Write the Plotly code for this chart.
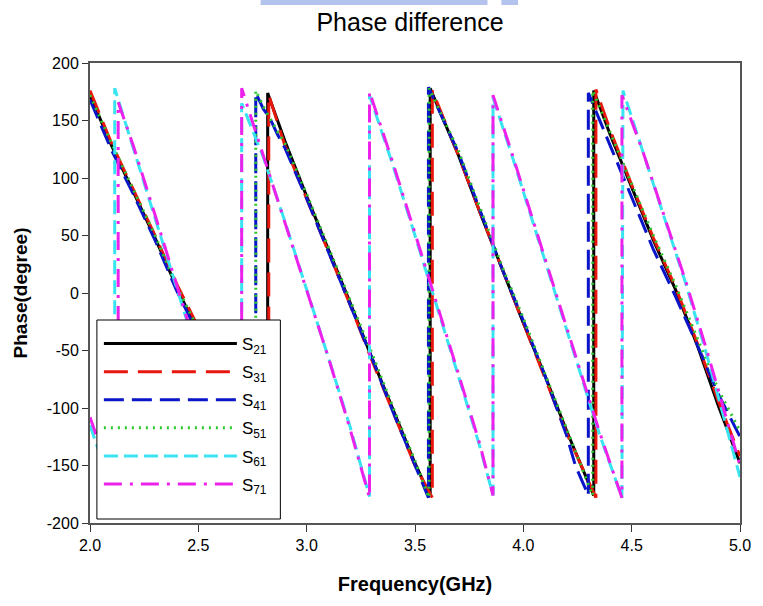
import plotly.graph_objects as go

# ---- data ----
S21_FREQ = [2.00, 2.10, 2.20, 2.30, 2.40, 2.50, 2.60, 2.70, 2.82, 2.82, 2.90, 3.00, 3.10, 3.20, 3.30, 3.40, 3.50, 3.57,
            3.57, 3.70, 3.80, 3.90, 4.00, 4.10, 4.20, 4.325, 4.325, 4.40, 4.50, 4.60, 4.70, 4.80, 4.90, 5.00]
S21_PHASE = [172, 128, 88, 48, 5, -35, -80, -125, -178, 174, 132, 84, 38, -8, -56, -102, -148, -177,
             178, 120, 70, 22, -26, -72, -120, -176, 176, 138, 92, 46, 4, -44, -98, -148]

S31_FREQ = [2.00, 2.10, 2.20, 2.30, 2.40, 2.50, 2.60, 2.70, 2.825, 2.825, 2.90, 3.00, 3.10, 3.20, 3.30, 3.40, 3.50, 3.58,
            3.58, 3.70, 3.80, 3.90, 4.00, 4.10, 4.20, 4.335, 4.335, 4.40, 4.50, 4.60, 4.70, 4.80, 4.90, 5.00]
S31_PHASE = [176, 130, 90, 50, 8, -30, -76, -122, -178, 172, 128, 82, 36, -10, -58, -104, -150, -178,
             176, 120, 70, 22, -26, -74, -122, -178, 177, 142, 94, 48, 6, -42, -94, -142]

S41_FREQ = [2.00, 2.10, 2.20, 2.30, 2.40, 2.50, 2.60, 2.765, 2.765, 2.80, 2.83, 2.865, 2.90, 3.00, 3.10, 3.20, 3.30, 3.40,
            3.50, 3.562, 3.562, 3.70, 3.80, 3.90, 4.00, 4.10, 4.20, 4.24, 4.30, 4.30, 4.41, 4.50, 4.60, 4.70, 4.80, 4.90, 5.00]
S41_PHASE = [168, 124, 86, 46, 2, -36, -84, -178, 174, 160, 152, 138, 126, 82, 36, -10, -56, -104,
             -150, -178, 179, 122, 72, 22, -24, -72, -124, -150, -176, 174, 124, 84, 38, -2, -44, -88, -125]

S51_FREQ = [2.00, 2.10, 2.20, 2.30, 2.40, 2.50, 2.60, 2.765, 2.765, 2.80, 2.86, 2.90, 3.00, 3.10, 3.20, 3.30, 3.40, 3.50,
            3.565, 3.565, 3.70, 3.80, 3.90, 4.00, 4.10, 4.20, 4.32, 4.32, 4.40, 4.50, 4.60, 4.70, 4.80, 4.90, 5.00]
S51_PHASE = [172, 130, 90, 50, 6, -32, -80, -178, 176, 162, 142, 130, 86, 40, -6, -52, -100, -146,
             -178, 178, 124, 74, 24, -22, -70, -118, -176, 176, 140, 96, 50, 8, -38, -84, -120]

S61_FREQ = [2.00, 2.114, 2.114, 2.20, 2.30, 2.40, 2.50, 2.60, 2.70, 2.70, 2.80, 2.90, 3.00, 3.10, 3.20, 3.29,
            3.29, 3.40, 3.50, 3.60, 3.70, 3.80, 3.86, 3.86, 3.95, 4.05, 4.15, 4.25, 4.35, 4.455,
            4.46, 4.55, 4.65, 4.75, 4.85, 4.95, 5.00]
S61_PHASE = [-115, -178, 178, 126, 66, 6, -56, -118, -178, 165, 118, 62, 4, -56, -116, -177,
             172, 110, 50, -10, -72, -134, -176, 170, 118, 58, -2, -62, -122, -178,
             176, 124, 66, 8, -56, -124, -160]

S71_FREQ = [2.00, 2.13, 2.13, 2.20, 2.30, 2.40, 2.50, 2.60, 2.70, 2.70, 2.80, 2.90, 3.00, 3.10, 3.20, 3.29,
            3.29, 3.40, 3.50, 3.60, 3.70, 3.80, 3.86, 3.86, 3.95, 4.05, 4.15, 4.25, 4.35, 4.455,
            4.455, 4.55, 4.65, 4.75, 4.85, 4.95, 5.00]
S71_PHASE = [-108, -178, 166, 128, 68, 8, -54, -116, -178, 178, 120, 62, 4, -56, -118, -178,
             175, 112, 52, -8, -70, -132, -176, 172, 120, 60, 0, -60, -120, -178,
             172, 124, 68, 10, -52, -118, -150]

SERIES_NAMES = ["S<sub>21</sub>", "S<sub>31</sub>", "S<sub>41</sub>", "S<sub>51</sub>", "S<sub>61</sub>", "S<sub>71</sub>"]
X_TICKS = [2.0, 2.5, 3.0, 3.5, 4.0, 4.5, 5.0]
Y_TICKS = [200, 150, 100, 50, 0, -50, -100, -150, -200]

freqs = [S21_FREQ, S31_FREQ, S41_FREQ, S51_FREQ, S61_FREQ, S71_FREQ]
phases = [S21_PHASE, S31_PHASE, S41_PHASE, S51_PHASE, S61_PHASE, S71_PHASE]
styles = [
    dict(color="#000000", dash="solid", width=3),
    dict(color="#e8160c", dash="24px,10px", width=3),
    dict(color="#0a14c8", dash="20px,8px", width=3),
    dict(color="#2ec82e", dash="2px,5px", width=3),
    dict(color="#38e4f0", dash="14px,6px", width=3),
    dict(color="#ec22ec", dash="18px,8px,3px,8px", width=3),
]

TICKFONT = dict(family="Liberation Sans Narrow, Arial Narrow, Liberation Sans, Arial", size=16, color="#000")

# plot area in pixels: x 90..749, y 63..523
PX0, PX1, PY0, PY1 = 90, 749, 63, 523
PW, PH = PX1 - PX0, PY1 - PY0


def px_x(p):
    return (p - PX0) / PW


def px_y(p):
    return (PY1 - p) / PH


fig = go.Figure()
for i in range(6):
    fig.add_trace(go.Scatter(
        x=freqs[i], y=phases[i], mode="lines", name=SERIES_NAMES[i] + "&nbsp;&nbsp;",
        line=styles[i], legendgroup=f"g{i}",
    ))

fig.update_layout(
    width=763, height=606,
    margin=dict(l=PX0, r=763 - PX1, t=PY0, b=606 - PY1),
    paper_bgcolor="white", plot_bgcolor="white",
    title=dict(text="Phase difference", x=410 / 763, xref="container", xanchor="center",
               y=1 - 22 / 606, yref="container", yanchor="middle",
               font=dict(family="Liberation Sans, Arial", size=25, color="#000")),
    showlegend=True,
    legend=dict(x=px_x(99), y=px_y(326), xanchor="left", yanchor="top",
                bgcolor="rgba(0,0,0,0)", borderwidth=0,
                font=dict(family="Liberation Sans, Arial", size=17, color="#000"),
                itemwidth=133, tracegroupgap=3, traceorder="grouped"),
    shapes=[
        # legend box (opaque, covers the curves like the original)
        dict(type="rect", xref="paper", yref="paper", x0=px_x(97), x1=px_x(283),
             y0=px_y(519), y1=px_y(320), fillcolor="white", line=dict(color="#000", width=1), layer="above"),
        # faint watermark fragment at the very top of the image
        dict(type="rect", xref="paper", yref="paper", x0=px_x(263), x1=px_x(493),
             y0=px_y(5), y1=px_y(0), fillcolor="#b4c2ee", line=dict(width=0), layer="above"),
        dict(type="rect", xref="paper", yref="paper", x0=px_x(507), x1=px_x(524),
             y0=px_y(5), y1=px_y(0), fillcolor="#b4c2ee", line=dict(width=0), layer="above"),
    ],
)

fig.update_xaxes(
    range=[2.0, 5.0], tickvals=X_TICKS, ticktext=[f"{v:.1f}" for v in X_TICKS],
    showgrid=False, zeroline=False, showline=True, linecolor="#555", linewidth=2, mirror=True,
    ticks="outside", ticklen=7, tickcolor="#333", tickfont=TICKFONT,
    title=dict(text="<b>Frequency(GHz)</b>", font=dict(family="Liberation Sans, Arial", size=20, color="#000"),
               standoff=24),
)
fig.update_yaxes(
    range=[-200, 200], tickvals=Y_TICKS, ticktext=[str(v) for v in Y_TICKS],
    showgrid=False, zeroline=False, showline=True, linecolor="#555", linewidth=2, mirror=True,
    ticks="outside", ticklen=6, tickcolor="#333", tickfont=TICKFONT,
    title=dict(text="<b>Phase(degree)</b>", font=dict(family="Liberation Sans, Arial", size=19, color="#000"),
               standoff=14),
)

fig.write_html("out.html")
